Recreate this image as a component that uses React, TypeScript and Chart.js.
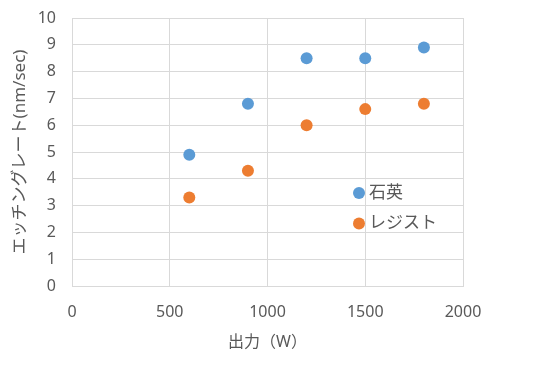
import React, { useEffect, useRef } from "react";
import { Chart, registerables } from "chart.js";

Chart.register(...registerables);

const powerW = [600, 900, 1200, 1500, 1800];
const quartzRate = [4.9, 6.8, 8.5, 8.5, 8.9];
const resistRate = [3.3, 4.3, 6.0, 6.6, 6.8];
const seriesNames = ["石英", "レジスト"];
const xTitle = "出力（W）";
const yTitle = "エッチングレート(nm/sec)";

const BLUE = "#5B9BD5";
const ORANGE = "#ED7D31";
const TEXT = "#595959";
const GRID = "#d9d9d9";
const FONT = "'Noto Sans', 'Noto Sans CJK JP', sans-serif";

const legendPlugin = {
  id: "insideLegend",
  afterDatasetsDraw(chart: any) {
    const { ctx, chartArea } = chart;
    const items = chart.data.datasets.map((d: any) => ({
      label: d.label,
      color: d.backgroundColor,
    }));
    const mx = chartArea.left + 287;
    const tx = chartArea.left + 297;
    const y0 = chartArea.top + 175;
    const gap = 30.5;
    ctx.save();
    items.forEach((it: any, i: number) => {
      const y = y0 + i * gap;
      ctx.beginPath();
      ctx.arc(mx, y, 6, 0, Math.PI * 2);
      ctx.fillStyle = it.color;
      ctx.fill();
      ctx.fillStyle = TEXT;
      ctx.font = `17px ${FONT}`;
      ctx.textAlign = "left";
      ctx.textBaseline = "middle";
      ctx.fillText(it.label, tx, y);
    });
    ctx.restore();
  },
};

export default function App() {
  const ref = useRef<HTMLCanvasElement | null>(null);

  useEffect(() => {
    if (!ref.current) return;
    const chart = new Chart(ref.current, {
      type: "scatter",
      data: {
        datasets: [
          {
            label: seriesNames[0],
            data: powerW.map((x, i) => ({ x, y: quartzRate[i] })),
            backgroundColor: BLUE,
            borderColor: BLUE,
            pointRadius: 6,
            pointBorderWidth: 0,
          },
          {
            label: seriesNames[1],
            data: powerW.map((x, i) => ({ x, y: resistRate[i] })),
            backgroundColor: ORANGE,
            borderColor: ORANGE,
            pointRadius: 6,
            pointBorderWidth: 0,
          },
        ],
      },
      options: {
        responsive: false,
        animation: false,
        devicePixelRatio: 1,
        layout: { padding: { left: 0, right: 71, top: 18, bottom: 0 } },
        plugins: {
          legend: { display: false },
          tooltip: { enabled: false },
          title: { display: false },
        },
        scales: {
          x: {
            type: "linear",
            min: 0,
            max: 2000,
            ticks: {
              stepSize: 500,
              color: TEXT,
              font: { family: FONT, size: 16 },
              padding: 0,
              maxRotation: 0,
              callback: (v: any) => String(v),
            },
            grid: {
              color: GRID,
              lineWidth: 1,
              drawTicks: true,
              tickLength: 17,
              tickColor: "rgba(0,0,0,0)",
            },
            border: { color: GRID, width: 1 },
            title: {
              display: true,
              text: xTitle,
              color: TEXT,
              font: { family: FONT, size: 16 },
              padding: { top: 0, bottom: 21 },
            },
            afterFit(scale: any) {
              scale.height = 87;
            },
          },
          y: {
            type: "linear",
            min: 0,
            max: 10,
            ticks: {
              stepSize: 1,
              color: TEXT,
              font: { family: FONT, size: 16 },
              padding: 0,
              callback: (v: any) => String(v),
            },
            grid: {
              color: GRID,
              lineWidth: 1,
              drawTicks: true,
              tickLength: 16,
              tickColor: "rgba(0,0,0,0)",
            },
            border: { color: GRID, width: 1 },
            title: {
              display: true,
              text: yTitle,
              color: TEXT,
              font: { family: FONT, size: 17 },
              padding: { top: 10, bottom: 0 },
            },
            afterFit(scale: any) {
              scale.width = 72;
            },
          },
        },
      },
      plugins: [legendPlugin],
    });
    return () => chart.destroy();
  }, []);

  return (
    <div style={{ position: "fixed", left: 0, top: 0, width: 534, height: 373, background: "#fff" }}>
      <canvas ref={ref} width={534} height={373} style={{ display: "block" }} />
    </div>
  );
}
